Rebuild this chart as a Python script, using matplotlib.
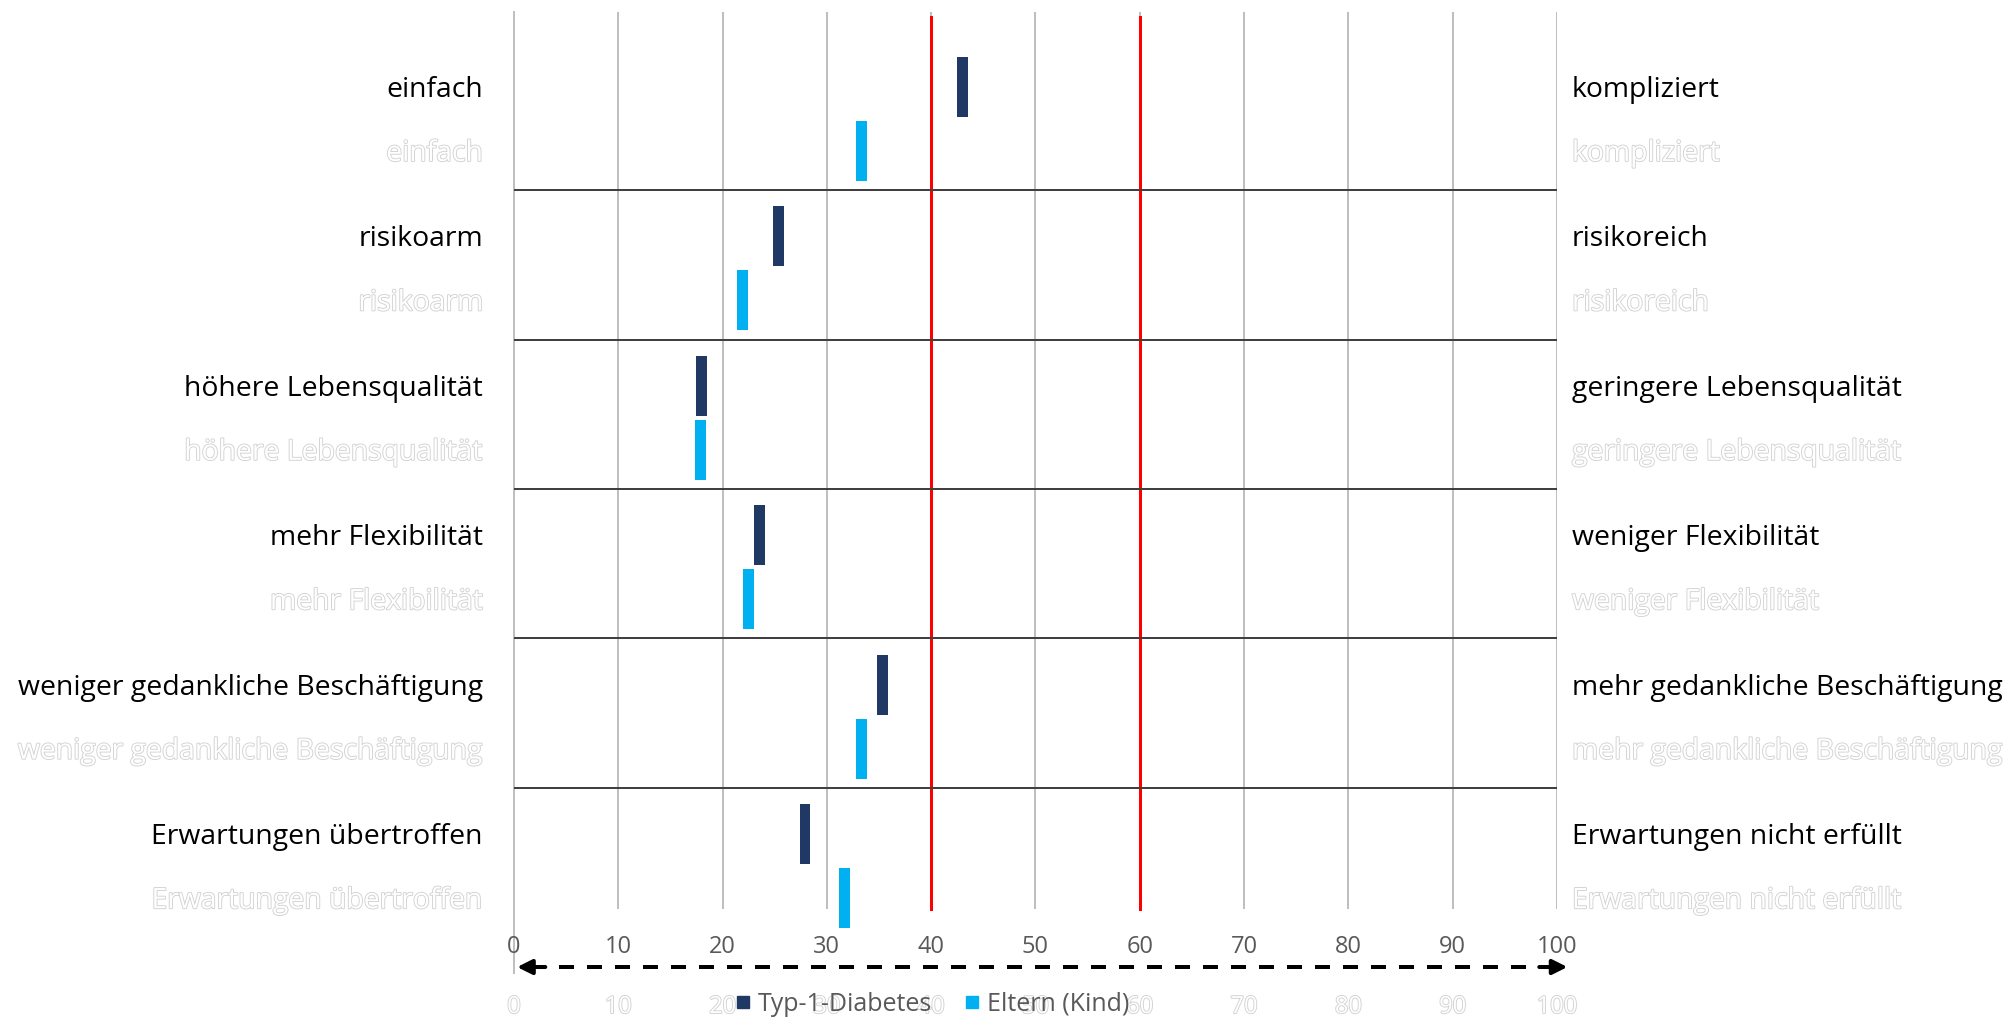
import matplotlib
matplotlib.use("Agg")
import matplotlib.pyplot as plt
import matplotlib.patheffects as pe
from matplotlib.lines import Line2D
import numpy as np

# ---- data -------------------------------------------------------------
left_labels = ["einfach", "risikoarm", "höhere Lebensqualität", "mehr Flexibilität",
               "weniger gedankliche Beschäftigung", "Erwartungen übertroffen"]
right_labels = ["kompliziert", "risikoreich", "geringere Lebensqualität",
                "weniger Flexibilität", "mehr gedankliche Beschäftigung",
                "Erwartungen nicht erfüllt"]
typ1 = [43.0, 25.4, 18.0, 23.5, 35.3, 27.9]
eltern = [33.3, 21.9, 17.9, 22.5, 33.3, 31.7]
series_names = ["Typ-1-Diabetes", "Eltern (Kind)"]
tick_values = [0, 10, 20, 30, 40, 50, 60, 70, 80, 90, 100]
reference_lines = [40, 60]

# ---- style ------------------------------------------------------------
plt.rcParams["font.family"] = ["Open Sans", "DejaVu Sans"]
DARK = "#1f3864"
LIGHT = "#00b0f0"
GRID = "#bfbfbf"
TEXT_GREY = "#595959"
PX = 0.72  # points per pixel at 100 dpi

fig = plt.figure(figsize=(20.06, 10.19), dpi=100)
ax = fig.add_axes([0.25623, 0.10795, 0.51994, 0.88003])

n = len(left_labels)
rows = np.arange(n)
offset = 0.428          # vertical shift of the second series row
sep_pos = 0.69          # separator position after each pair of rows
bar_h = 0.401
bar_w = 1.05

ax.set_xlim(0, 100)
ax.set_ylim(n - 0.5, -0.5)
for s in ax.spines.values():
    s.set_visible(False)
ax.set_yticks([])

# vertical grid
ax.set_xticks(tick_values)
ax.set_xticklabels([str(t) for t in tick_values], color=TEXT_GREY, fontsize=17)
ax.tick_params(axis="x", length=0, pad=19)
ax.grid(axis="x", color=GRID, linewidth=2 * PX, zorder=0)

# left axis line reaching down into the second series band
ax.plot([0, 0], [-0.5, n - 0.5 + offset], color=GRID, linewidth=2 * PX,
        clip_on=False, zorder=1)

# reference lines
for r in reference_lines:
    ax.plot([r, r], [-0.47, n - 0.5], color="#ff0000", linewidth=3 * PX,
            zorder=2, clip_on=False)

# separators between item pairs
ax.hlines(rows[:-1] + sep_pos, 0, 100, color="#404040", linewidth=2 * PX, zorder=2)

# markers
ax.bar(typ1, bar_h, bottom=rows - bar_h / 2, width=bar_w, color=DARK,
       zorder=3, clip_on=False)
ax.bar(eltern, bar_h, bottom=rows + offset - bar_h / 2, width=bar_w, color=LIGHT,
       zorder=3, clip_on=False)

# item labels
ghost = [pe.withStroke(linewidth=1.3, foreground="#d2d2d2")]
for i in range(n):
    for y, col, eff in ((rows[i], "black", None), (rows[i] + offset, "white", ghost)):
        t1 = ax.annotate(left_labels[i], xy=(0, y), xytext=(-31, -10),
                         textcoords="offset pixels", ha="right", va="baseline",
                         fontsize=20.4, color=col, annotation_clip=False)
        t2 = ax.annotate(right_labels[i], xy=(100, y), xytext=(15, -10),
                         textcoords="offset pixels", ha="left", va="baseline",
                         fontsize=20.4, color=col, annotation_clip=False)
        if eff:
            t1.set_path_effects(eff)
            t2.set_path_effects(eff)

# second (outlined) scale below
xt = ax.get_xaxis_transform()
for t in tick_values:
    ax.text(t, -0.1093, str(t), transform=xt, ha="center", va="center",
            fontsize=17, color="white", path_effects=ghost, clip_on=False)

# dashed double arrow
ya = -0.0647
ax.plot([1.6, 99.6], [ya, ya], transform=xt, color="black", linewidth=4 * PX,
        dashes=(3.75, 3.25), clip_on=False, solid_capstyle="butt",
        dash_capstyle="butt")
for tip, tail in ((0.3, 3.0), (101.0, 98.3)):
    ax.annotate("", xy=(tip, ya), xytext=(tail, ya), xycoords=xt, textcoords=xt,
                arrowprops=dict(arrowstyle="-|>", color="black", lw=4 * PX,
                                mutation_scale=22, shrinkA=0, shrinkB=0),
                annotation_clip=False)

# legend
handles = [Line2D([], [], marker="s", linestyle="", color=c, markersize=8)
           for c in (DARK, LIGHT)]
fig.legend(handles, series_names, loc="center", bbox_to_anchor=(0.4641, 0.0147),
           ncol=2, frameon=False, fontsize=18, labelcolor=TEXT_GREY,
           handlelength=0.8, handletextpad=0.2, columnspacing=1.2,
           borderpad=0, borderaxespad=0)

fig.savefig("out.png", dpi=100, facecolor="white")
